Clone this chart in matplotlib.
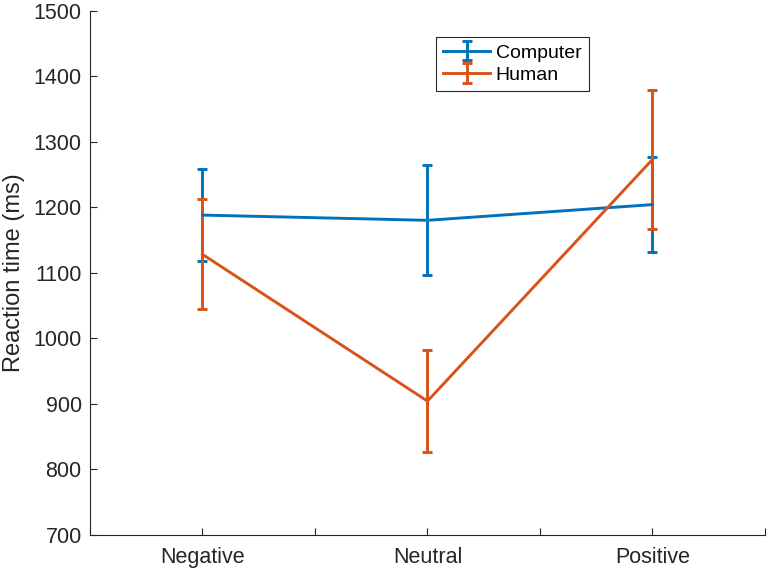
import matplotlib
matplotlib.use('Agg')
import matplotlib.pyplot as plt

plt.rcParams['font.family'] = ['Liberation Sans', 'DejaVu Sans']

conditions = ['Negative', 'Neutral', 'Positive']
x_pos = [1, 2, 3]

computer_mean = [1188, 1180, 1204]
computer_err = [70, 84, 72]
human_mean = [1128, 904, 1273]
human_err = [84, 78, 106]

blue = '#0072BD'
orange = '#D95319'
axcol = '#262626'

fig = plt.figure(figsize=(7.71, 5.73), dpi=100)
ax = fig.add_axes([0.1167, 0.0668, 0.8755, 0.9145])

ax.errorbar(x_pos, computer_mean, yerr=computer_err, color=blue, lw=2.1,
            capsize=3.6, capthick=2.1, label='Computer')
ax.errorbar(x_pos, human_mean, yerr=human_err, color=orange, lw=2.1,
            capsize=3.6, capthick=2.1, label='Human')

ax.set_xlim(0.5, 3.5)
ax.set_ylim(700, 1500)
ax.set_xticks([0.5, 1, 1.5, 2, 2.5, 3, 3.5])
ax.set_xticklabels(['', conditions[0], '', conditions[1], '', conditions[2], ''])
ax.set_yticks(range(700, 1501, 100))
ax.set_ylabel('Reaction time (ms)', fontsize=17, color=axcol, labelpad=6)

ax.spines['top'].set_visible(False)
ax.spines['right'].set_visible(False)
for s in ['left', 'bottom']:
    ax.spines[s].set_color(axcol)
    ax.spines[s].set_linewidth(0.8)
ax.tick_params(axis='both', direction='in', length=5, width=0.8, colors=axcol,
               labelsize=15.5, labelcolor=axcol)
ax.tick_params(axis='x', pad=9)
ax.tick_params(axis='y', pad=6)

leg = ax.legend(loc='upper left', bbox_to_anchor=(0.513, 0.950), fontsize=14,
                fancybox=False, framealpha=1, edgecolor=axcol, handlelength=2.4,
                borderpad=0.36, labelspacing=0.25, handletextpad=0.3,
                borderaxespad=0)
leg.get_frame().set_linewidth(0.8)

fig.savefig('out.png', dpi=100)
